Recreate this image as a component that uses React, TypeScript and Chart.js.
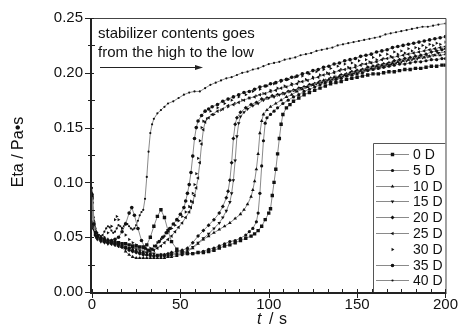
import React, { useEffect, useRef } from 'react';
import { Chart, registerables } from 'chart.js';

Chart.register(...registerables);

// ---------- data ----------
const seriesLabels = ['0 D', '5 D', '10 D', '15 D', '20 D', '25 D', '30 D', '35 D', '40 D'];

const xTicks = [0, 50, 100, 150, 200];
const yTicks = [0, 0.05, 0.1, 0.15, 0.2, 0.25];

const annotationLines = ['stabilizer contents goes', 'from the high to the low'];

// [t (s), Eta (Pa·s)]
const s0D: [number, number][] = [
  [0, 0.088], [1, 0.062], [2, 0.054], [3, 0.051], [5, 0.049], [7, 0.047], [9, 0.046], [11, 0.046], [13, 0.045],
  [15, 0.045], [17, 0.044], [19, 0.044], [21, 0.043], [23, 0.042], [25, 0.042], [27, 0.041], [29, 0.041], [31, 0.043],
  [33, 0.05], [35, 0.06], [37, 0.069], [39, 0.075], [41, 0.068], [43, 0.056], [45, 0.046], [48, 0.039], [51, 0.036],
  [54, 0.035], [57, 0.035], [60, 0.036], [63, 0.036], [66, 0.037], [69, 0.038], [72, 0.04], [75, 0.042], [78, 0.043],
  [81, 0.045], [84, 0.047], [87, 0.049], [90, 0.051], [92, 0.053], [94, 0.056], [96, 0.06], [98, 0.066], [100, 0.072],
  [101, 0.076], [102, 0.088], [103, 0.1], [104, 0.112], [105, 0.126], [106, 0.14], [107, 0.153], [108, 0.162],
  [110, 0.168], [112, 0.171], [114, 0.174], [117, 0.177], [120, 0.18], [123, 0.182], [126, 0.184], [129, 0.186],
  [132, 0.188], [135, 0.19], [138, 0.191], [141, 0.192], [144, 0.194], [147, 0.195], [150, 0.196], [153, 0.197],
  [156, 0.198], [159, 0.199], [162, 0.199], [165, 0.2], [168, 0.201], [171, 0.201], [174, 0.202], [177, 0.203],
  [180, 0.203], [183, 0.204], [186, 0.204], [189, 0.205], [192, 0.206], [195, 0.206], [198, 0.207], [200, 0.207],
];

const s5D: [number, number][] = [
  [0, 0.085], [1, 0.06], [2, 0.053], [3, 0.05], [5, 0.048], [7, 0.047], [9, 0.046], [11, 0.045], [13, 0.044],
  [15, 0.043], [17, 0.042], [19, 0.041], [21, 0.04], [23, 0.038], [25, 0.037], [27, 0.036], [29, 0.035], [31, 0.034],
  [33, 0.034], [35, 0.033], [37, 0.033], [39, 0.033], [41, 0.033], [43, 0.033], [45, 0.034], [48, 0.034], [51, 0.034],
  [54, 0.035], [57, 0.035], [60, 0.036], [63, 0.037], [66, 0.039], [69, 0.04], [72, 0.042], [75, 0.044], [78, 0.046],
  [81, 0.047], [84, 0.049], [87, 0.052], [89, 0.055], [91, 0.058], [93, 0.064], [94, 0.072], [95, 0.09], [96, 0.115],
  [97, 0.138], [98, 0.154], [99, 0.159], [101, 0.162], [103, 0.165], [105, 0.168], [108, 0.172], [111, 0.175],
  [114, 0.178], [117, 0.18], [120, 0.183], [123, 0.185], [126, 0.187], [129, 0.189], [132, 0.191], [135, 0.192],
  [138, 0.194], [141, 0.195], [144, 0.197], [147, 0.198], [150, 0.199], [153, 0.2], [156, 0.202], [159, 0.203],
  [162, 0.204], [165, 0.205], [168, 0.206], [171, 0.207], [174, 0.208], [177, 0.208], [180, 0.209], [183, 0.21],
  [186, 0.21], [189, 0.211], [192, 0.212], [195, 0.212], [198, 0.213], [200, 0.213],
];

const s10D: [number, number][] = [
  [0, 0.09], [1, 0.065], [2, 0.056], [3, 0.052], [5, 0.05], [7, 0.049], [9, 0.048], [11, 0.047], [13, 0.046],
  [15, 0.044], [17, 0.041], [19, 0.037], [21, 0.034], [23, 0.032], [25, 0.031], [27, 0.031], [29, 0.031], [31, 0.031],
  [33, 0.031], [35, 0.031], [37, 0.031], [39, 0.031], [41, 0.031], [43, 0.032], [45, 0.032], [48, 0.033], [51, 0.035],
  [54, 0.037], [57, 0.04], [60, 0.044], [63, 0.048], [66, 0.051], [69, 0.054], [72, 0.057], [75, 0.06], [78, 0.063],
  [81, 0.067], [84, 0.071], [86, 0.075], [88, 0.08], [90, 0.087], [91, 0.093], [92, 0.101], [93, 0.112], [94, 0.126],
  [95, 0.145], [96, 0.156], [97, 0.162], [99, 0.166], [101, 0.169], [104, 0.172], [107, 0.175], [110, 0.178],
  [113, 0.18], [116, 0.183], [119, 0.185], [122, 0.187], [125, 0.189], [128, 0.191], [131, 0.193], [134, 0.194],
  [137, 0.196], [140, 0.197], [143, 0.198], [146, 0.2], [149, 0.201], [152, 0.202], [155, 0.203], [158, 0.204],
  [161, 0.206], [164, 0.207], [167, 0.208], [170, 0.209], [173, 0.21], [176, 0.211], [179, 0.212], [182, 0.213],
  [185, 0.214], [188, 0.214], [191, 0.215], [194, 0.216], [197, 0.216], [200, 0.217],
];

const s15D: [number, number][] = [
  [0, 0.08], [1, 0.057], [2, 0.051], [3, 0.048], [5, 0.046], [7, 0.045], [9, 0.044], [11, 0.044], [13, 0.043],
  [15, 0.042], [17, 0.041], [19, 0.041], [21, 0.04], [23, 0.04], [25, 0.039], [27, 0.038], [29, 0.037], [31, 0.036],
  [33, 0.035], [35, 0.035], [37, 0.034], [39, 0.034], [41, 0.034], [43, 0.034], [45, 0.035], [48, 0.035], [51, 0.036],
  [54, 0.038], [57, 0.041], [60, 0.045], [63, 0.049], [66, 0.053], [69, 0.058], [72, 0.063], [74, 0.068], [76, 0.074],
  [78, 0.082], [79, 0.09], [80, 0.102], [81, 0.12], [82, 0.142], [83, 0.154], [84, 0.16], [86, 0.164], [88, 0.167],
  [91, 0.17], [94, 0.172], [97, 0.175], [100, 0.177], [103, 0.178], [106, 0.18], [109, 0.181], [112, 0.183],
  [115, 0.184], [118, 0.186], [121, 0.187], [124, 0.189], [127, 0.19], [130, 0.191], [133, 0.193], [136, 0.194],
  [139, 0.195], [142, 0.197], [145, 0.198], [148, 0.199], [151, 0.201], [154, 0.202], [157, 0.203], [160, 0.204],
  [163, 0.205], [166, 0.206], [169, 0.207], [172, 0.209], [175, 0.21], [178, 0.211], [181, 0.212], [184, 0.213],
  [187, 0.214], [190, 0.215], [193, 0.216], [196, 0.218], [200, 0.219],
];

const s20D: [number, number][] = [
  [0, 0.082], [1, 0.058], [2, 0.052], [3, 0.049], [5, 0.047], [7, 0.046], [9, 0.045], [11, 0.044], [13, 0.043],
  [15, 0.042], [17, 0.041], [19, 0.04], [21, 0.038], [23, 0.037], [25, 0.036], [27, 0.035], [29, 0.034], [31, 0.034],
  [33, 0.033], [35, 0.033], [37, 0.033], [39, 0.034], [41, 0.034], [43, 0.035], [45, 0.036], [48, 0.037], [51, 0.038],
  [54, 0.04], [57, 0.045], [60, 0.051], [63, 0.056], [66, 0.061], [69, 0.066], [72, 0.072], [74, 0.078], [76, 0.086],
  [77, 0.092], [78, 0.102], [79, 0.118], [80, 0.14], [81, 0.153], [82, 0.159], [84, 0.164], [87, 0.168], [90, 0.171],
  [93, 0.173], [96, 0.176], [99, 0.177], [102, 0.179], [105, 0.18], [108, 0.181], [111, 0.183], [114, 0.184],
  [117, 0.186], [120, 0.187], [123, 0.189], [126, 0.19], [129, 0.192], [132, 0.193], [135, 0.195], [138, 0.196],
  [141, 0.198], [144, 0.199], [147, 0.201], [150, 0.202], [153, 0.203], [156, 0.205], [159, 0.206], [162, 0.207],
  [165, 0.208], [168, 0.209], [171, 0.211], [174, 0.212], [177, 0.213], [180, 0.214], [183, 0.215], [186, 0.216],
  [189, 0.217], [192, 0.219], [195, 0.22], [198, 0.221], [200, 0.222],
];

const s25D: [number, number][] = [
  [0, 0.083], [1, 0.059], [2, 0.052], [3, 0.049], [5, 0.047], [7, 0.046], [9, 0.045], [11, 0.044], [13, 0.043],
  [15, 0.042], [17, 0.041], [19, 0.04], [21, 0.039], [23, 0.038], [25, 0.037], [27, 0.036], [29, 0.036], [31, 0.036],
  [33, 0.037], [35, 0.038], [37, 0.04], [39, 0.042], [41, 0.045], [43, 0.048], [45, 0.051], [47, 0.055], [49, 0.059],
  [51, 0.063], [53, 0.068], [55, 0.073], [56, 0.077], [57, 0.082], [58, 0.088], [59, 0.095], [60, 0.104], [61, 0.118],
  [62, 0.135], [63, 0.148], [64, 0.155], [66, 0.159], [68, 0.162], [71, 0.165], [74, 0.167], [77, 0.17], [80, 0.171],
  [83, 0.173], [86, 0.175], [89, 0.177], [92, 0.178], [95, 0.18], [98, 0.181], [101, 0.183], [104, 0.184],
  [107, 0.186], [110, 0.187], [113, 0.189], [116, 0.19], [119, 0.192], [122, 0.193], [125, 0.195], [128, 0.196],
  [131, 0.198], [134, 0.199], [137, 0.2], [140, 0.202], [143, 0.203], [146, 0.204], [149, 0.205], [152, 0.207],
  [155, 0.208], [158, 0.209], [161, 0.21], [164, 0.212], [167, 0.213], [170, 0.214], [173, 0.215], [176, 0.216],
  [179, 0.217], [182, 0.218], [185, 0.219], [188, 0.22], [191, 0.221], [194, 0.222], [197, 0.223], [200, 0.224],
];

const s30D: [number, number][] = [
  [0, 0.084], [1, 0.06], [2, 0.052], [3, 0.05], [5, 0.048], [7, 0.05], [9, 0.054], [11, 0.06], [13, 0.066],
  [14, 0.069], [15, 0.066], [17, 0.058], [19, 0.052], [21, 0.048], [23, 0.045], [25, 0.043], [27, 0.041], [29, 0.04],
  [31, 0.039], [33, 0.04], [35, 0.042], [37, 0.045], [39, 0.048], [41, 0.051], [43, 0.054], [45, 0.058], [47, 0.061],
  [49, 0.065], [51, 0.069], [53, 0.073], [55, 0.078], [56, 0.083], [57, 0.09], [58, 0.098], [59, 0.108], [60, 0.122],
  [61, 0.138], [62, 0.15], [63, 0.156], [65, 0.158], [67, 0.165], [69, 0.162], [71, 0.168], [73, 0.166], [75, 0.172],
  [77, 0.169], [79, 0.175], [81, 0.172], [83, 0.178], [85, 0.175], [87, 0.18], [89, 0.177], [91, 0.183], [93, 0.179],
  [95, 0.185], [97, 0.181], [99, 0.188], [101, 0.184], [103, 0.19], [105, 0.186], [107, 0.192], [109, 0.188],
  [111, 0.194], [113, 0.19], [115, 0.196], [117, 0.192], [119, 0.197], [121, 0.194], [123, 0.199], [125, 0.196],
  [127, 0.201], [129, 0.198], [131, 0.203], [133, 0.2], [135, 0.204], [137, 0.201], [139, 0.206], [141, 0.203],
  [143, 0.208], [145, 0.205], [147, 0.209], [149, 0.207], [151, 0.211], [153, 0.208], [155, 0.212], [157, 0.21],
  [159, 0.214], [161, 0.212], [163, 0.216], [165, 0.213], [167, 0.217], [169, 0.215], [171, 0.219], [173, 0.217],
  [175, 0.22], [177, 0.218], [179, 0.222], [181, 0.22], [183, 0.223], [185, 0.222], [187, 0.225], [189, 0.223],
  [191, 0.226], [193, 0.225], [195, 0.227], [197, 0.226], [200, 0.228],
];

const s35D: [number, number][] = [
  [0, 0.086], [1, 0.062], [2, 0.054], [3, 0.051], [5, 0.049], [7, 0.048], [9, 0.047], [11, 0.047], [13, 0.048],
  [15, 0.05], [17, 0.055], [19, 0.062], [21, 0.072], [22.5, 0.077], [24, 0.07], [26, 0.058], [28, 0.047], [30, 0.04],
  [32, 0.038], [34, 0.039], [36, 0.042], [38, 0.046], [40, 0.05], [42, 0.054], [44, 0.058], [46, 0.062], [48, 0.066],
  [50, 0.071], [52, 0.077], [53, 0.083], [54, 0.09], [55, 0.098], [56, 0.109], [57, 0.124], [58, 0.14], [59, 0.15],
  [60, 0.156], [62, 0.161], [64, 0.165], [66, 0.167], [68, 0.169], [71, 0.171], [74, 0.174], [77, 0.176], [80, 0.178],
  [83, 0.18], [86, 0.182], [89, 0.183], [92, 0.185], [95, 0.187], [98, 0.188], [101, 0.19], [104, 0.191],
  [107, 0.193], [110, 0.194], [113, 0.196], [116, 0.197], [119, 0.199], [122, 0.2], [125, 0.202], [128, 0.203],
  [131, 0.205], [134, 0.206], [137, 0.208], [140, 0.209], [143, 0.211], [146, 0.212], [149, 0.213], [152, 0.215],
  [155, 0.216], [158, 0.217], [161, 0.219], [164, 0.22], [167, 0.221], [170, 0.223], [173, 0.224], [176, 0.225],
  [179, 0.226], [182, 0.227], [185, 0.228], [188, 0.229], [191, 0.23], [194, 0.231], [197, 0.232], [200, 0.233],
];

const s40D: [number, number][] = [
  [0, 0.095], [1, 0.068], [2, 0.058], [3, 0.054], [4, 0.052], [5, 0.051], [6, 0.052], [7, 0.055], [8, 0.058],
  [9, 0.06], [10, 0.059], [11, 0.056], [12, 0.054], [13, 0.055], [14, 0.058], [15, 0.061], [16, 0.06], [17, 0.058],
  [18, 0.06], [19, 0.063], [20, 0.062], [21, 0.06], [22, 0.058], [23, 0.057], [24, 0.058], [25, 0.061], [26, 0.065],
  [27, 0.07], [28, 0.073], [29, 0.075], [30, 0.085], [31, 0.105], [32, 0.128], [33, 0.145], [34, 0.153], [35, 0.158],
  [37, 0.163], [39, 0.166], [41, 0.169], [43, 0.172], [46, 0.174], [49, 0.177], [52, 0.18], [55, 0.182], [58, 0.183],
  [61, 0.183], [64, 0.186], [67, 0.189], [70, 0.191], [73, 0.193], [76, 0.195], [79, 0.196], [82, 0.198], [85, 0.2],
  [88, 0.201], [91, 0.203], [94, 0.204], [97, 0.206], [100, 0.208], [103, 0.209], [106, 0.21], [109, 0.212],
  [112, 0.213], [115, 0.214], [118, 0.216], [121, 0.217], [124, 0.218], [127, 0.22], [130, 0.221], [133, 0.222],
  [136, 0.223], [139, 0.225], [142, 0.226], [145, 0.227], [148, 0.228], [151, 0.229], [154, 0.23], [157, 0.231],
  [160, 0.232], [163, 0.233], [166, 0.235], [169, 0.236], [172, 0.237], [175, 0.238], [178, 0.239], [181, 0.24],
  [184, 0.241], [187, 0.242], [190, 0.242], [193, 0.243], [196, 0.244], [200, 0.245],
];

const seriesData = [s0D, s5D, s10D, s15D, s20D, s25D, s30D, s35D, s40D];

// ---------- styles ----------
const markerStyles = ['rect', 'circle', 'triangle', 'triangle', 'rectRot', 'triangle', 'triangle', 'circle', 'circle'];
const markerRotations = [0, 0, 0, 180, 0, -90, 90, 0, 0];
const markerRadii = [2.4, 1.6, 2.1, 2.1, 2.0, 2.1, 1.9, 1.8, 1.1];
const showLines = [true, true, true, true, true, true, false, true, true];

const FONT = '"Liberation Sans", Arial, Helvetica, sans-serif';
const INK = '#111';
const LINE_GRAY = '#8a8a8a';

function drawMarker(ctx: CanvasRenderingContext2D, style: string, rot: number, x: number, y: number, r: number) {
  ctx.save();
  ctx.translate(x, y);
  ctx.rotate((rot * Math.PI) / 180);
  ctx.beginPath();
  if (style === 'circle') {
    ctx.arc(0, 0, r, 0, Math.PI * 2);
  } else if (style === 'rect') {
    const s = r * Math.SQRT1_2;
    ctx.rect(-s, -s, 2 * s, 2 * s);
  } else if (style === 'rectRot') {
    ctx.moveTo(0, -r);
    ctx.lineTo(r, 0);
    ctx.lineTo(0, r);
    ctx.lineTo(-r, 0);
    ctx.closePath();
  } else {
    ctx.moveTo(0, -r);
    ctx.lineTo(r * 0.866, r * 0.5);
    ctx.lineTo(-r * 0.866, r * 0.5);
    ctx.closePath();
  }
  ctx.fill();
  ctx.restore();
}

const decorPlugin = {
  id: 'decor',
  afterDraw(chart: any) {
    const ctx: CanvasRenderingContext2D = chart.ctx;
    const a = chart.chartArea;
    const xs = chart.scales.x;
    const ys = chart.scales.y;
    ctx.save();

    // clean band below the x tick labels, right of the axis title
    ctx.fillStyle = '#fff';
    ctx.fillRect(300, 311, chart.width - 300, chart.height - 311);

    // legend box (clipped to the plot area)
    ctx.save();
    ctx.beginPath();
    ctx.rect(a.left, a.top, a.right - a.left, a.bottom - a.top);
    ctx.clip();
    const bx0 = 373;
    const bx1 = a.right;
    const by0 = 143;
    const by1 = a.bottom;
    ctx.fillStyle = '#fff';
    ctx.fillRect(bx0, by0, bx1 - bx0, by1 - by0);
    ctx.strokeStyle = '#555';
    ctx.lineWidth = 1;
    ctx.beginPath();
    ctx.moveTo(bx0 + 0.5, by1);
    ctx.lineTo(bx0 + 0.5, by0 + 0.5);
    ctx.lineTo(bx1, by0 + 0.5);
    ctx.stroke();
    ctx.font = `14px ${FONT}`;
    ctx.textAlign = 'left';
    ctx.textBaseline = 'middle';
    chart.data.datasets.forEach((ds: any, i: number) => {
      const cy = Math.round(by0 + 11 + i * 15.8) + 0.5;
      if (showLines[i]) {
        ctx.strokeStyle = LINE_GRAY;
        ctx.beginPath();
        ctx.moveTo(bx0 + 3, cy);
        ctx.lineTo(bx0 + 36, cy);
        ctx.stroke();
      }
      ctx.fillStyle = INK;
      drawMarker(ctx, markerStyles[i], markerRotations[i], bx0 + 19.5, cy, markerRadii[i]);
      ctx.fillText(ds.label, bx0 + 40, cy + 1);
    });
    ctx.restore();

    // frame: thin top/right, thick left/bottom
    ctx.strokeStyle = '#444';
    ctx.lineWidth = 1;
    ctx.beginPath();
    ctx.moveTo(a.left, a.top + 0.5);
    ctx.lineTo(a.right + 0.5, a.top + 0.5);
    ctx.lineTo(a.right + 0.5, a.bottom);
    ctx.stroke();
    ctx.strokeStyle = '#222';
    ctx.lineWidth = 2;
    ctx.beginPath();
    ctx.moveTo(a.left - 1, a.top);
    ctx.lineTo(a.left - 1, a.bottom + 1);
    ctx.lineTo(a.right + 1, a.bottom + 1);
    ctx.stroke();

    // ticks
    ctx.lineWidth = 1;
    ctx.strokeStyle = '#222';
    ctx.beginPath();
    for (const v of xTicks) {
      const px = Math.round(xs.getPixelForValue(v)) + 0.5;
      ctx.moveTo(px, a.bottom - 3);
      ctx.lineTo(px, a.bottom + 6);
    }
    for (let i = 0; i <= 24; i++) {
      if (i % 6 === 0) continue;
      const v = (200 / 24) * i;
      const px = Math.round(xs.getPixelForValue(v)) + 0.5;
      ctx.moveTo(px, a.bottom - 3);
      ctx.lineTo(px, a.bottom + 1);
    }
    for (const v of yTicks) {
      const py = Math.round(ys.getPixelForValue(v)) + 0.5;
      ctx.moveTo(a.left - 7, py);
      ctx.lineTo(a.left + 2, py);
    }
    for (let i = 0; i < yTicks.length - 1; i++) {
      const v = (yTicks[i] + yTicks[i + 1]) / 2;
      const py = Math.round(ys.getPixelForValue(v)) + 0.5;
      ctx.moveTo(a.left - 4, py);
      ctx.lineTo(a.left + 3, py);
    }
    ctx.stroke();

    // annotation
    ctx.fillStyle = INK;
    ctx.font = `15px ${FONT}`;
    ctx.textAlign = 'left';
    ctx.textBaseline = 'alphabetic';
    ctx.fillText(annotationLines[0], a.left + 6, a.top + 20);
    ctx.fillText(annotationLines[1], a.left + 6, a.top + 39);
    const ay = a.top + 49.5;
    ctx.strokeStyle = '#222';
    ctx.lineWidth = 1;
    ctx.beginPath();
    ctx.moveTo(a.left + 8, ay);
    ctx.lineTo(a.left + 105, ay);
    ctx.stroke();
    ctx.beginPath();
    ctx.moveTo(a.left + 111, ay);
    ctx.lineTo(a.left + 103, ay - 2.5);
    ctx.lineTo(a.left + 103, ay + 2.5);
    ctx.closePath();
    ctx.fillStyle = '#222';
    ctx.fill();

    // axis titles
    ctx.fillStyle = INK;
    ctx.font = `16px ${FONT}`;
    ctx.save();
    ctx.translate(19, 152);
    ctx.rotate(-Math.PI / 2);
    ctx.textAlign = 'center';
    ctx.textBaseline = 'middle';
    ctx.fillText('Eta / Pa\u2022s', 0, 0);
    ctx.restore();
    ctx.textAlign = 'left';
    ctx.textBaseline = 'alphabetic';
    ctx.font = `italic 16px ${FONT}`;
    ctx.fillText('t', 257, 324);
    ctx.font = `16px ${FONT}`;
    ctx.fillText('/', 269, 324);
    ctx.fillText('s', 279, 324);

    ctx.restore();
  },
};

export default function App() {
  const canvasRef = useRef<HTMLCanvasElement | null>(null);

  useEffect(() => {
    if (!canvasRef.current) return;
    const chart = new Chart(canvasRef.current, {
      type: 'line',
      data: {
        datasets: seriesData.map((pts, i) => ({
          label: seriesLabels[i],
          data: pts.map(([t, v]) => ({ x: t, y: v })),
          showLine: showLines[i],
          borderColor: LINE_GRAY,
          borderWidth: 1,
          pointStyle: markerStyles[i] as any,
          pointRotation: markerRotations[i],
          pointRadius: markerRadii[i],
          pointBackgroundColor: INK,
          pointBorderColor: INK,
          pointBorderWidth: 0,
          tension: 0,
          fill: false,
        })),
      },
      options: {
        responsive: false,
        animation: false,
        events: [],
        layout: { padding: { left: 0, top: 16, right: 14, bottom: 0 } },
        plugins: { legend: { display: false }, tooltip: { enabled: false } },
        scales: {
          x: {
            type: 'linear',
            min: 0,
            max: 200,
            afterFit: (s: any) => {
              s.height = 42;
            },
            afterBuildTicks: (s: any) => {
              s.ticks = xTicks.map((v) => ({ value: v }));
            },
            ticks: {
              padding: 4,
              color: INK,
              font: { family: FONT, size: 15 },
              maxRotation: 0,
              autoSkip: false,
            },
            grid: { display: false, drawTicks: false },
            border: { display: false },
          },
          y: {
            type: 'linear',
            min: 0,
            max: 0.25,
            afterFit: (s: any) => {
              s.width = 92;
            },
            afterBuildTicks: (s: any) => {
              s.ticks = yTicks.map((v) => ({ value: v }));
            },
            ticks: {
              padding: 9,
              color: INK,
              font: { family: FONT, size: 15 },
              callback: (v: any) => Number(v).toFixed(2),
            },
            grid: { display: false, drawTicks: false },
            border: { display: false },
          },
        },
      },
      plugins: [decorPlugin],
    });
    return () => chart.destroy();
  }, []);

  return (
    <div style={{ position: 'fixed', left: 0, top: 0, width: 462, height: 334, background: '#fff' }}>
      <canvas ref={canvasRef} width={462} height={334} style={{ display: 'block' }} />
    </div>
  );
}
